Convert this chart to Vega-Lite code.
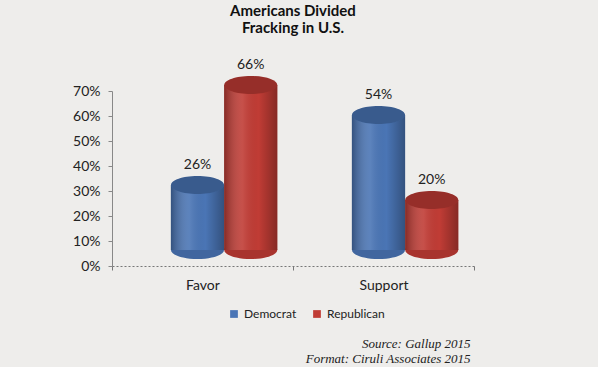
{
  "$schema": "https://vega.github.io/schema/vega-lite/v6.json",
  "width": 362,
  "height": 175,
  "autosize": "none",
  "padding": {"left": 112, "top": 91, "right": 124, "bottom": 101},
  "background": "#eeedeb",
  "config": {"view": {"stroke": null}, "font": "Lato"},
  "title": {
    "text": ["Americans Divided", "Fracking in U.S."],
    "font": "Lato",
    "fontSize": 15,
    "fontWeight": "bold",
    "color": "#111111",
    "frame": "group",
    "anchor": "middle",
    "offset": 22,
    "lineHeight": 17
  },
  "data": {
    "values": [
      {"cat": "Favor", "party": "Democrat", "value": 0.26},
      {"cat": "Favor", "party": "Republican", "value": 0.66},
      {"cat": "Support", "party": "Democrat", "value": 0.54},
      {"cat": "Support", "party": "Republican", "value": 0.20}
    ]
  },
  "encoding": {
    "x": {
      "field": "cat",
      "type": "nominal",
      "sort": ["Favor", "Support"],
      "scale": {"paddingInner": 0, "paddingOuter": 0},
      "axis": {
        "title": ["Source: Gallup 2015", "Format: Ciruli Associates 2015"],
        "titleFont": "Liberation Serif",
        "titleFontStyle": "italic",
        "titleFontWeight": "normal",
        "titleFontSize": 13,
        "titleColor": "#222222",
        "titleAnchor": "end",
        "titleAlign": "right",
        "titleAnchorOffset": 0,
        "titlePadding": 45,
        "titleLineHeight": 15,
        "titleX": 358,
        "labelAngle": 0,
        "labelFont": "Lato",
        "labelFontSize": 14,
        "labelColor": "#222222",
        "labelPadding": 8,
        "domainDash": [2, 2],
        "domainColor": "#777777",
        "tickColor": "#777777",
        "tickSize": 4,
        "tickBand": "extent"
      }
    },
    "xOffset": {"field": "party", "scale": {"paddingInner": 0, "paddingOuter": 0.7, "align": 0.79}},
    "y": {
      "field": "value",
      "type": "quantitative",
      "scale": {"domain": [0, 0.7]},
      "axis": {
        "title": null,
        "values": [0, 0.1, 0.2, 0.3, 0.4, 0.5, 0.6, 0.7],
        "format": ".0%",
        "grid": false,
        "labelFont": "Lato",
        "labelFontSize": 14,
        "labelColor": "#222222",
        "labelPadding": 8,
        "domainColor": "#888888",
        "tickColor": "#888888",
        "tickSize": 4
      }
    }
  },
  "layer": [
    {
      "mark": {
        "type": "point",
        "shape": "M-1,0 A1,0.34 0 1,1 1,0 A1,0.34 0 1,1 -1,0 Z",
        "size": 2809,
        "filled": true,
        "opacity": 1,
        "strokeWidth": 0,
        "yOffset": -16
      },
      "encoding": {"y": {"datum": 0}, "color": {"field": "party", "type": "nominal"}}
    },
    {
      "mark": {
        "type": "point",
        "shape": "M-1,0 A1,0.34 0 1,1 1,0 A1,0.34 0 1,1 -1,0 Z",
        "size": 2809,
        "filled": true,
        "fill": "#000000",
        "opacity": 0.12,
        "strokeWidth": 0,
        "yOffset": -16
      },
      "encoding": {"y": {"datum": 0}}
    },
    {
      "mark": {"type": "bar", "clip": false, "yOffset": -16, "y2Offset": -16},
      "encoding": {
        "color": {
          "field": "party",
          "type": "nominal",
          "scale": {"domain": ["Democrat", "Republican"], "range": ["#4a75b5", "#c03c35"]},
          "legend": {
            "orient": "none",
            "legendX": 116,
            "legendY": 217,
            "direction": "horizontal",
            "title": null,
            "symbolType": "square",
            "symbolSize": 60,
            "symbolStrokeWidth": 0,
            "labelFont": "Lato",
            "labelFontSize": 12,
            "labelColor": "#222222",
            "columnPadding": 14
          }
        }
      }
    },
    {
      "mark": {
        "type": "bar",
        "yOffset": -16,
        "y2Offset": -16,
        "fill": {
          "gradient": "linear",
          "x1": 0, "x2": 1, "y1": 0, "y2": 0,
          "stops": [
            {"offset": 0, "color": "rgba(0,0,0,0.3)"},
            {"offset": 0.35, "color": "rgba(255,255,255,0.1)"},
            {"offset": 0.65, "color": "rgba(0,0,0,0)"},
            {"offset": 1, "color": "rgba(0,0,0,0.3)"}
          ]
        }
      }
    },
    {
      "mark": {
        "type": "point",
        "shape": "M-1,0 A1,0.34 0 1,1 1,0 A1,0.34 0 1,1 -1,0 Z",
        "size": 2809,
        "filled": true,
        "opacity": 1,
        "strokeWidth": 0,
        "yOffset": -16
      },
      "encoding": {"color": {"field": "party", "type": "nominal"}}
    },
    {
      "mark": {
        "type": "point",
        "shape": "M-1,0 A1,0.34 0 1,1 1,0 A1,0.34 0 1,1 -1,0 Z",
        "size": 2809,
        "filled": true,
        "fill": "#000000",
        "opacity": 0.22,
        "strokeWidth": 0,
        "yOffset": -16
      }
    },
    {
      "mark": {
        "type": "text",
        "baseline": "bottom",
        "dy": -29,
        "font": "Lato",
        "fontSize": 14,
        "color": "#222222"
      },
      "encoding": {"text": {"field": "value", "type": "quantitative", "format": ".0%"}}
    }
  ]
}
